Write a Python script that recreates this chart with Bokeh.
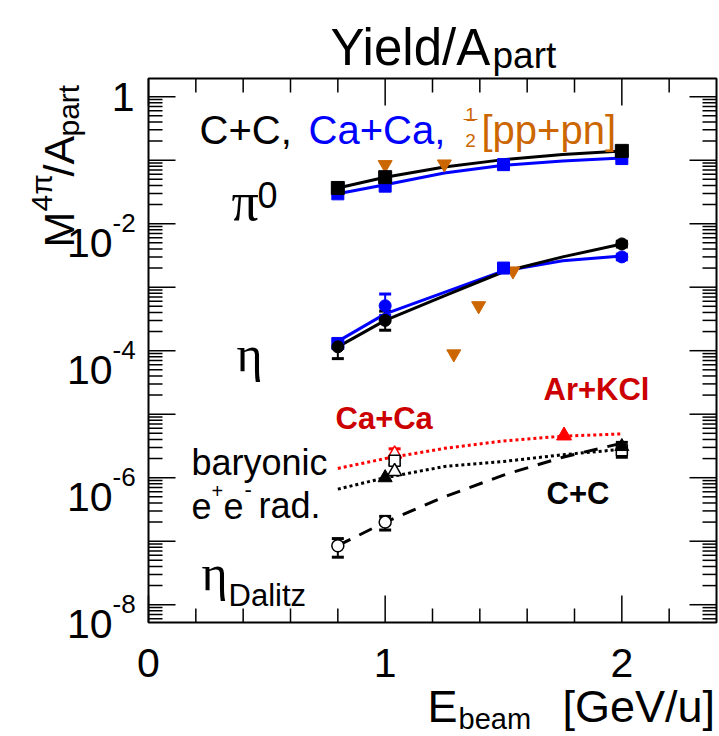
import math
from bokeh.plotting import figure
from bokeh.models import Label, Whisker, ColumnDataSource, TeeHead, Range1d
from bokeh.embed import file_html
from bokeh.resources import INLINE

# ---------------- data ----------------
fit_x = [0.8, 1.0, 1.25, 1.5, 1.75, 2.0]

# pi0
pi0_cc_x = [0.8, 1.0, 2.0]
pi0_cc_y = [0.0365, 0.054, 0.14]
pi0_caca_x = [0.8, 1.0, 1.5, 2.0]
pi0_caca_y = [0.0295, 0.039, 0.085, 0.106]
pi0_pp_x = [1.0, 1.25]
pi0_pp_y = [0.085, 0.087]
pi0_cc_fit = [0.0365, 0.054, 0.078, 0.102, 0.123, 0.14]
pi0_caca_fit = [0.0295, 0.041, 0.063, 0.083, 0.097, 0.108]

# eta
eta_cc_x = [0.8, 1.0, 2.0]
eta_cc_y = [1.15e-4, 3.0e-4, 4.8e-3]
eta_cc_lo = [0.75e-4, 2.1e-4, 4.3e-3]
eta_cc_hi = [1.5e-4, 4.2e-4, 5.3e-3]
eta_caca_circ_x = [1.0, 2.0]
eta_caca_circ_y = [5.1e-4, 3.0e-3]
eta_caca_circ_lo = [3.6e-4, 2.7e-3]
eta_caca_circ_hi = [7.8e-4, 3.3e-3]
eta_caca_sq_x = [0.8, 1.5]
eta_caca_sq_y = [1.3e-4, 2.0e-3]
eta_pp_x = [1.29, 1.395, 1.54]
eta_pp_y = [8.9e-5, 5.1e-4, 1.8e-3]
eta_cc_fit = [1.15e-4, 3.0e-4, 7.3e-4, 1.75e-3, 3.0e-3, 4.8e-3]
eta_caca_fit = [1.4e-4, 3.8e-4, 8.3e-4, 1.8e-3, 2.6e-3, 3.1e-3]

# eta Dalitz
dal_x = [0.8, 1.0]
dal_y = [8.5e-8, 2.0e-7]
dal_lo = [5.6e-8, 1.5e-7]
dal_hi = [1.1e-7, 2.46e-7]
dal_fit = [8.5e-8, 2.0e-7, 5.0e-7, 1.1e-6, 2.1e-6, 3.5e-6]

# baryonic e+e- radiation
bar_cc_fit = [6.6e-7, 1.0e-6, 1.5e-6, 1.8e-6, 2.3e-6, 2.8e-6]
bar_red_fit = [1.4e-6, 2.0e-6, 2.9e-6, 3.8e-6, 4.5e-6, 4.9e-6]
bar_cc_full_x = [1.0, 2.0]
bar_cc_full_y = [1.0e-6, 3.1e-6]
bar_cc_open_tri_x = [1.04]
bar_cc_open_tri_y = [1.25e-6]
bar_cc_open_sq_x = [1.04, 2.0]
bar_cc_open_sq_y = [1.85e-6, 2.7e-6]
bar_cc_open_sq_lo = [1.6e-6, 2.1e-6]
bar_cc_open_sq_hi = [2.0e-6, 3.6e-6]
bar_caca_x = [1.04]
bar_caca_y = [2.36e-6]
bar_caca_lo = [2.0e-6]
bar_caca_hi = [2.85e-6]
bar_arkcl_x = [1.756]
bar_arkcl_y = [4.6e-6]

# axes
x_major = [0, 1, 2]
x_major_labels = ["0", "1", "2"]
x_minor = [0.2, 0.4, 0.6, 0.8, 1.2, 1.4, 1.6, 1.8, 2.2]
y_major_exp = list(range(-8, 1))
y_label_exp = [0, -2, -4, -6, -8]

# ---------------- layout ----------------
W, H = 719, 736
L, R, T, B = 148, 3, 78, 114            # frame box inside the canvas
FW, FH = W - L - R, H - T - B
XMIN, XMAX = 0.0, 2.4
YLMIN, YLMAX = -8.28, 0.286
PXU = FW / (XMAX - XMIN)
PYD = FH / (YLMAX - YLMIN)
YMIN, YMAX = 10 ** YLMIN, 10 ** YLMAX

SANS = "Liberation Sans"
SERIF = "Liberation Serif"
BLUE = "#0000ff"
ORANGE = "#cc6600"
DARKRED = "#cc0000"
RED = "#ff0000"


def dx(px):
    return XMIN + (px - L) / PXU


def dy(py):
    return 10 ** (YLMAX - (py - T) / PYD)


p = figure(width=W, height=H, y_axis_type="log",
           x_range=Range1d(XMIN - L / PXU, XMAX + R / PXU),
           y_range=Range1d(10 ** (YLMIN - B / PYD), 10 ** (YLMAX + T / PYD)),
           x_axis_location=None, y_axis_location=None, min_border=0,
           output_backend="svg", toolbar_location=None)
p.grid.visible = False
p.outline_line_color = None
p.background_fill_color = "white"
p.border_fill_color = "white"

# ---------------- axis box and ticks (ticks inside, on all four sides) -------
y_major = [10.0 ** e for e in y_major_exp]
y_minor = [k * 10.0 ** e for e in range(-9, 1) for k in range(2, 10)
           if YMIN <= k * 10.0 ** e <= YMAX]
TK = dict(length_units="screen", line_color="black", line_width=1.5)
p.ray(x=x_major, y=[YMIN] * len(x_major), length=27, angle=math.pi / 2, **TK)
p.ray(x=x_minor, y=[YMIN] * len(x_minor), length=14, angle=math.pi / 2, **TK)
p.ray(x=x_major, y=[YMAX] * len(x_major), length=27, angle=-math.pi / 2, **TK)
p.ray(x=x_minor, y=[YMAX] * len(x_minor), length=14, angle=-math.pi / 2, **TK)
p.ray(x=[XMIN] * len(y_major), y=y_major, length=27, angle=0, **TK)
p.ray(x=[XMIN] * len(y_minor), y=y_minor, length=14, angle=0, **TK)
p.ray(x=[XMAX] * len(y_major), y=y_major, length=27, angle=math.pi, **TK)
p.ray(x=[XMAX] * len(y_minor), y=y_minor, length=14, angle=math.pi, **TK)
p.quad(left=[XMIN], right=[XMAX], bottom=[YMIN], top=[YMAX],
       fill_color=None, line_color="black", line_width=2)

# ---------------- curves ----------------
p.line(fit_x, pi0_caca_fit, line_color=BLUE, line_width=3)
p.line(fit_x, pi0_cc_fit, line_color="black", line_width=3)
p.line(fit_x, eta_caca_fit, line_color=BLUE, line_width=3)
p.line(fit_x, eta_cc_fit, line_color="black", line_width=3)
p.line(fit_x, dal_fit, line_color="black", line_width=3, line_dash="14 10")
p.line(fit_x, bar_red_fit, line_color=RED, line_width=3, line_dash="3 3")
p.line(fit_x, bar_cc_fit, line_color="black", line_width=3, line_dash="3 3")


def whisk(xs, lo, hi, color):
    src = ColumnDataSource(dict(base=xs, lower=lo, upper=hi))
    w = Whisker(source=src, base="base", lower="lower", upper="upper",
                dimension="height", line_color=color, line_width=2,
                upper_head=TeeHead(size=12, line_color=color, line_width=3),
                lower_head=TeeHead(size=12, line_color=color, line_width=3))
    p.add_layout(w)


# ---------------- markers ----------------
p.scatter(pi0_pp_x, pi0_pp_y, marker="inverted_triangle", size=14,
          fill_color=ORANGE, line_color=ORANGE)
p.scatter(pi0_caca_x, pi0_caca_y, marker="square", size=12,
          fill_color=BLUE, line_color=BLUE)
p.scatter(pi0_cc_x, pi0_cc_y, marker="square", size=13,
          fill_color="black", line_color="black")

p.scatter(eta_pp_x, eta_pp_y, marker="inverted_triangle", size=14,
          fill_color=ORANGE, line_color=ORANGE)
whisk(eta_caca_circ_x, eta_caca_circ_lo, eta_caca_circ_hi, BLUE)
p.scatter(eta_caca_sq_x, eta_caca_sq_y, marker="square", size=12,
          fill_color=BLUE, line_color=BLUE)
p.scatter(eta_caca_circ_x, eta_caca_circ_y, marker="circle", size=12,
          fill_color=BLUE, line_color=BLUE)
whisk(eta_cc_x, eta_cc_lo, eta_cc_hi, "black")
p.scatter(eta_cc_x, eta_cc_y, marker="circle", size=12,
          fill_color="black", line_color="black")

whisk(dal_x, dal_lo, dal_hi, "black")
p.scatter(dal_x, dal_y, marker="circle", size=12,
          fill_color="white", line_color="black", line_width=1.5)

whisk(bar_caca_x, bar_caca_lo, bar_caca_hi, RED)
p.scatter(bar_caca_x, bar_caca_y, marker="triangle", size=14,
          fill_color="white", line_color=RED, line_width=1.5)
whisk(bar_cc_open_sq_x, bar_cc_open_sq_lo, bar_cc_open_sq_hi, "black")
p.scatter(bar_cc_open_sq_x, bar_cc_open_sq_y, marker="square", size=11,
          fill_color="white", line_color="black", line_width=1.5)
p.scatter(bar_cc_open_tri_x, bar_cc_open_tri_y, marker="triangle", size=14,
          fill_color="white", line_color="black", line_width=1.5)
p.scatter(bar_cc_full_x, bar_cc_full_y, marker="triangle", size=14,
          fill_color="black", line_color="black")
p.scatter(bar_arkcl_x, bar_arkcl_y, marker="triangle", size=15,
          fill_color=RED, line_color=RED)


# ---------------- texts ----------------
def lab(text, px, py, size, color="black", font=SANS, align="left",
        baseline="alphabetic", style="normal", angle=0.0):
    p.add_layout(Label(x=dx(px), y=dy(py), text=text, text_font=font,
                       text_font_size=f"{size}px", text_color=color,
                       text_align=align, text_baseline=baseline,
                       text_font_style=style, angle=angle))


# title
lab("Yield/A", 330, 47, 51)
lab("part", 492, 55, 37)

# x tick labels
for xv, xl in zip(x_major, x_major_labels):
    p.add_layout(Label(x=xv, y=dy(662), text=xl, text_font=SANS,
                       text_font_size="41px", text_align="center",
                       text_color="black", text_baseline="alphabetic"))

# y tick labels
for e in y_label_exp:
    py = T + (YLMAX - e) * PYD
    if e == 0:
        lab("1", 134, py, 41, align="right", baseline="middle")
    else:
        lab("10", 112, py + 19, 41, align="right")
        lab(str(e), 112, py - 1, 26)

# y axis title (rotated, reading upward)
ang = math.pi / 2
lab("M", 58, 247, 43, angle=ang)
lab("4\u03c0", 41, 211, 30, angle=ang)
lab("/A", 58, 176, 43, angle=ang)
lab("part", 68, 136, 30, angle=ang)

# x axis title
lab("E", 427, 706, 45)
lab("beam", 458, 718, 29)
lab("[GeV/u]", 562, 706, 45)

# header
lab("C+C,", 199, 129, 40)
lab("Ca+Ca,", 308, 129, 40, color=BLUE)
lab("1", 470, 114, 19, color=ORANGE, align="center")
lab("2", 470, 140, 19, color=ORANGE, align="center")
p.segment(x0=[dx(463)], y0=[dy(119)], x1=[dx(477)], y1=[dy(119)],
          line_color=ORANGE, line_width=1.2)
lab("[pp+pn]", 481, 129, 40, color=ORANGE)

# particle labels
lab("\u03c0", 231, 201, 54, font=SERIF)
lab("0", 257, 194, 36)
lab("\u03b7", 236, 353, 50, font=SERIF)
lab("\u03b7", 201, 572, 50, font=SERIF)
lab("Dalitz", 228, 595, 31)
lab("baryonic", 191, 462, 36)
lab("e", 191, 505, 36)
lab("+", 211, 490, 20)
lab("e", 223, 505, 36)
lab("-", 244, 489, 22)
lab("rad.", 258, 505, 36)
lab("Ca+Ca", 335, 418, 31, color=DARKRED, style="bold")
lab("Ar+KCl", 543, 389, 31, color=DARKRED, style="bold")
lab("C+C", 546, 493, 31, style="bold")

open("out.html", "w").write(file_html(p, INLINE))
